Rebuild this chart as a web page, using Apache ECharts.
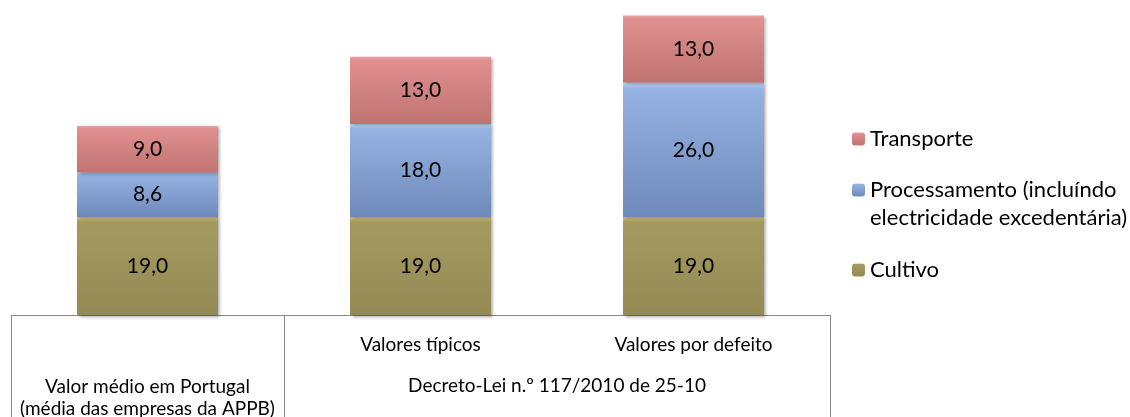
<!DOCTYPE html>
<html>
<head>
<meta charset="utf-8">
<script src="https://cdn.jsdelivr.net/npm/echarts@6/dist/echarts.min.js"></script>
<style>
html, body { margin: 0; padding: 0; background: #ffffff; }
#chart { width: 1130px; height: 417px; }
</style>
</head>
<body>
<div id="chart"></div>
<script>
// categories (first level) and groups (second level of the axis)
var subLabels = ['', 'Valores típicos', 'Valores por defeito']
var groupLabels = ['Valor médio em Portugal\n(média das empresas da APPB)', 'Decreto-Lei n.º 117/2010 de 25-10']
var groupStart = [0, 1]
var groupEnd = [1, 3]

// series values
var cultivo = [19.0, 19.0, 19.0]
var processamento = [8.6, 18.0, 26.0]
var transporte = [9.0, 13.0, 13.0]

var seriesNames = ['Cultivo', 'Processamento (incluíndo electricidade excedentária)', 'Transporte']
var seriesData = [cultivo, processamento, transporte]

var font = 'Lato'
var lineColor = '#8a8a8a'

function grad (stops) {
  return new echarts.graphic.LinearGradient(0, 0, 0, 1, stops.map(function (s) {
    return {offset: s[0], color: s[1]}
  }))
}

var fills = [
  grad([[0, '#cdc186'], [0.05, '#a4995f'], [1, '#958a54']]),
  grad([[0, '#bcd0f0'], [0.05, '#95b2e3'], [1, '#6f8aba']]),
  grad([[0, '#eba5a4'], [0.05, '#df908f'], [1, '#c07371']])
]

function fmt (v) {
  return v.toFixed(1).replace('.', ',')
}

var chart = echarts.init(document.getElementById('chart'))

var grids = [
  {left: 11, width: 273, top: 0, bottom: 102, outerBoundsMode: 'none'},
  {left: 284, width: 546, top: 0, bottom: 102, outerBoundsMode: 'none'}
]

var xAxes = []
var yAxes = []
var series = []

for (var g = 0; g < 2; g++) {
  xAxes.push({
    type: 'category',
    gridIndex: g,
    data: subLabels.slice(groupStart[g], groupEnd[g]),
    axisLine: {show: true, lineStyle: {color: lineColor, width: 1}},
    axisTick: {show: false},
    axisLabel: {
      margin: 20,
      fontFamily: font,
      fontSize: 19,
      color: '#000000'
    }
  })
  yAxes.push({
    type: 'value',
    gridIndex: g,
    min: 0,
    max: 61,
    show: false
  })
}

var groupMargins = [61, 60]
for (var g2 = 0; g2 < 2; g2++) {
  xAxes.push({
    type: 'category',
    gridIndex: g2,
    position: 'bottom',
    data: [groupLabels[g2]],
    axisLine: {show: false},
    axisTick: {show: true, length: 102, lineStyle: {color: lineColor, width: 1}},
    axisLabel: {
      margin: groupMargins[g2],
      fontFamily: font,
      fontSize: 19,
      lineHeight: 22,
      color: '#000000'
    }
  })
}

for (var gi = 0; gi < 2; gi++) {
  for (var s = 0; s < 3; s++) {
    series.push({
      name: seriesNames[s],
      type: 'bar',
      xAxisIndex: gi,
      yAxisIndex: gi,
      stack: 'g' + gi,
      barWidth: 141,
      data: seriesData[s].slice(groupStart[gi], groupEnd[gi]),
      itemStyle: {
        color: fills[s],
        shadowBlur: 3,
        shadowOffsetX: 1.5,
        shadowOffsetY: 1.5,
        shadowColor: 'rgba(0,0,0,0.35)'
      },
      label: {
        show: true,
        position: 'inside',
        fontFamily: font,
        fontSize: 21,
        color: '#000000',
        formatter: function (p) { return fmt(p.value) }
      },
      emphasis: {disabled: true}
    })
  }
}

function legendFor (name, top, twoLines) {
  var lg = {
    data: [name],
    left: 852,
    top: top,
    padding: 0,
    orient: 'vertical',
    itemWidth: 13,
    itemHeight: 13,
    itemGap: 8,
    selectedMode: false,
    textStyle: {
      fontFamily: font,
      fontSize: 22,
      lineHeight: 28,
      color: '#000000'
    }
  }
  if (twoLines) {
    // blank first line keeps the marker level with the first text line
    lg.formatter = function (n) { return '\n' + n.replace(' electricidade', '\nelectricidade') }
  }
  return lg
}

chart.setOption({
  animation: false,
  grid: grids,
  xAxis: xAxes,
  yAxis: yAxes,
  legend: [
    legendFor(seriesNames[2], 125, false),
    legendFor(seriesNames[1], 148, true),
    legendFor(seriesNames[0], 256, false)
  ],
  series: series
})
</script>
</body>
</html>
